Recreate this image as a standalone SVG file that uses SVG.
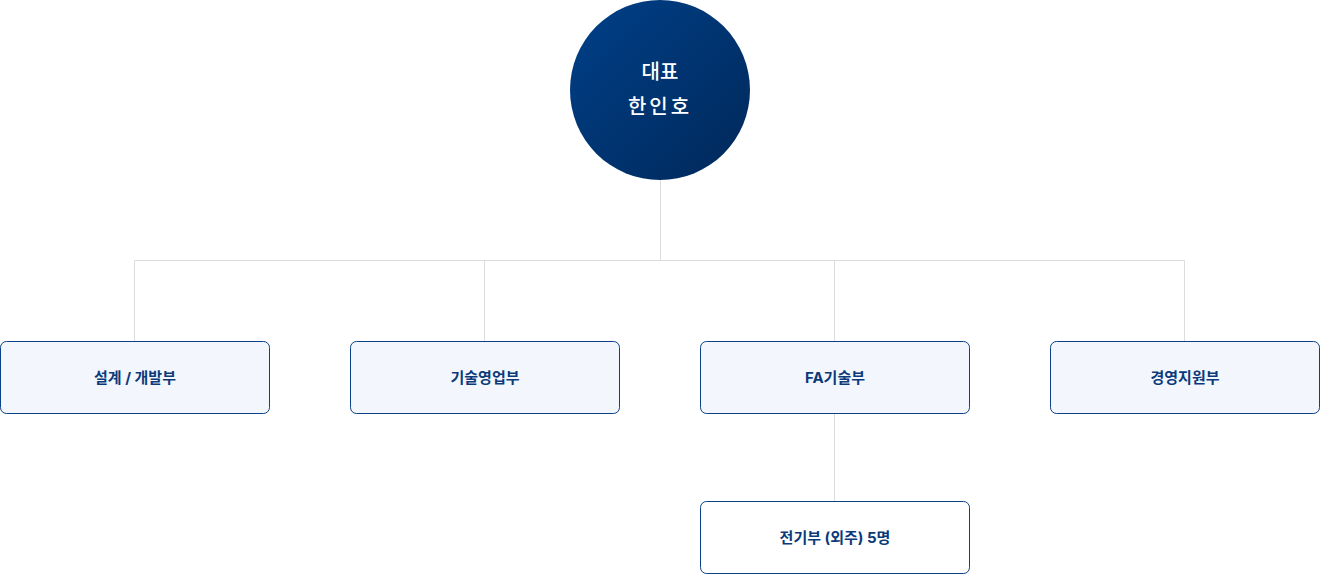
<svg xmlns="http://www.w3.org/2000/svg" width="1320" height="575" viewBox="0 0 1320 575">
<defs>
<linearGradient id="g" x1="0" y1="0" x2="1" y2="1"><stop offset="0" stop-color="#004089"/><stop offset="1" stop-color="#002859"/></linearGradient>
<style>
.box{fill:#f3f7fd;stroke:#0b4189;stroke-width:1}
.sub{fill:#ffffff;stroke:#0b4189;stroke-width:1}
.t{font-family:Inter,"Noto Sans CJK KR",sans-serif;font-weight:700;font-size:15px;fill:#0b3a7a;text-anchor:middle}
.w{font-family:Inter,"Noto Sans CJK KR",sans-serif;font-weight:500;font-size:20px;fill:#fff;text-anchor:middle}
.c{stroke:#dcdcdc;stroke-width:1;fill:none}
</style>
</defs>
<g id="connectors">
<path class="c" d="M660.5 180V260.5M134.5 260.5H1184.5M134.5 260.5V341M484.5 260.5V341M834.5 260.5V341M1184.5 260.5V341M834.5 414V501"/>
</g>
<g id="ceo"><circle cx="660" cy="90" r="90" fill="url(#g)"/><text class="w" x="660" y="79">대표</text><text class="w" x="660" y="114" letter-spacing="3">한인호</text></g>
<g id="n1"><rect class="box" x="0.5" y="341.5" width="269" height="72" rx="6"/><text class="t" x="135" y="383">설계 / 개발부</text></g>
<g id="n2"><rect class="box" x="350.5" y="341.5" width="269" height="72" rx="6"/><text class="t" x="485" y="383">기술영업부</text></g>
<g id="n3"><rect class="box" x="700.5" y="341.5" width="269" height="72" rx="6"/><text class="t" x="835" y="383">FA기술부</text></g>
<g id="n4"><rect class="box" x="1050.5" y="341.5" width="269" height="72" rx="6"/><text class="t" x="1185" y="383">경영지원부</text></g>
<g id="n5"><rect class="sub" x="700.5" y="501.5" width="269" height="72" rx="6"/><text class="t" x="835" y="543">전기부 (외주) 5명</text></g>
</svg>
